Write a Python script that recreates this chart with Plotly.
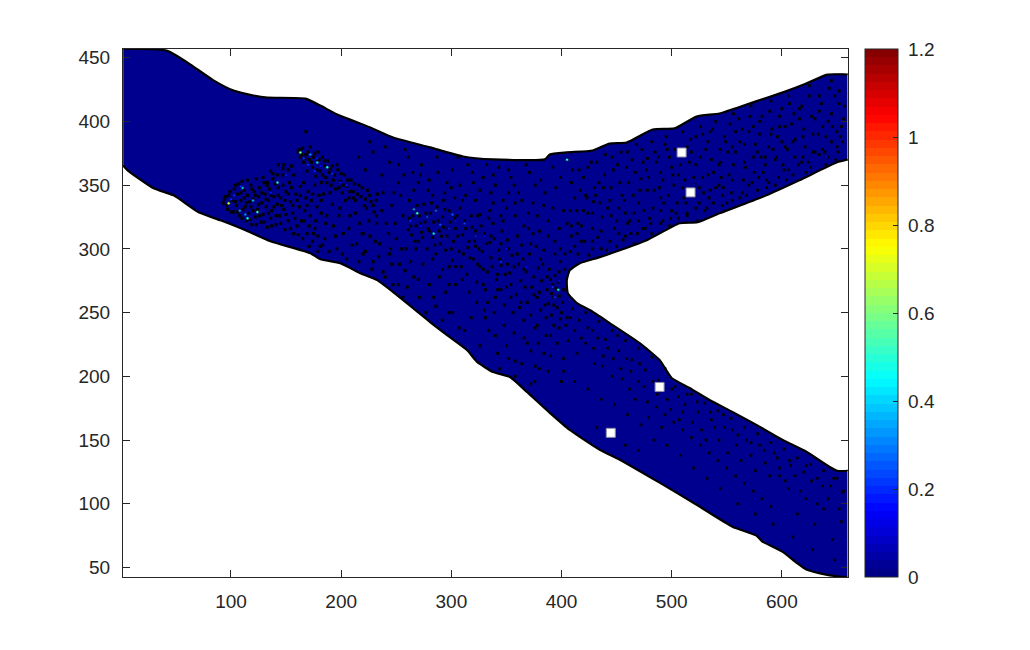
import plotly.graph_objects as go

# Channel boundary (data coordinates)
top_x = [2,41.6,60.6,84.1,102.3,120.4,133.1,167.5,181.1,196.5,226.4,247.2,280.7,310.6,337.8,384.9,389.4,404.8,428.4,443.7,459.1,482.7,502.6,522.6,543.4,570.6,600.4,622.2,641.2,660]
top_y = [457,455.5,446.1,432.2,424.2,420.3,418.7,417.9,412.4,405.4,395.2,387.4,379.6,372.5,370.2,370.2,374.1,375.7,377.2,382.7,383.5,393.7,394.5,403.9,406.2,414,422.6,429.7,436.7,436.7]
fork_x = [660,650,615.8,585.9,543.4,523.5,507.2,477.3,452.8,434.7,416.6,407.5,404.8,405.7,413.9,425.6,443.7,470.9,489,499.9,516.2,534.3,555.1,576.9,600.4,622.2,643,650.2,660]
fork_y = [370.2,367.9,353.8,342,327.9,320.9,320.1,306.8,298.9,293.5,288.8,283.3,275.5,265.3,257.4,252,241.8,226.1,212.8,198.7,190.9,181.5,172.1,161.9,150.2,140.8,129.1,125.9,125.9]
low_x = [660,651.8,640,622.2,613.1,600.4,582.3,576.9,555.1,522.6,489,452.8,434.7,407.5,389.4,368.6,353.2,337.8,323.4,314.2,296.1,280.7,265.3,247.2,232.7,217.3,199.2,181.1,172,135.8,113.2,90.5,70.6,48,29.8,6.2,2]
low_y = [42.6,43,44.5,48.5,53.9,62.5,70.4,75.1,82.1,99.3,116.6,134.6,142.4,158,171.4,187.8,199.5,203.4,211.3,220.7,232.4,242.6,253.5,266.1,275.5,280.9,288.8,291.9,296.6,306,314.6,322.4,328.7,342,347.5,361.6,365.5]

# Dark speckles
speckle_left = [(93,336),(95,341),(97,331),(99,345),(101,338),(102,329),(104,350),(105,334),(106,343),(108,326),(109,338),(110,353),(111,331),(112,346),(114,322),(114,336),(115,342),(116,328),(118,350),(118,333),(119,319),(120,339),(121,345),(122,325),(123,355),(124,331),(125,341),(126,348),(127,321),(128,336),(129,327),(130,352),(131,343),(132,333),(133,317),(134,338),(135,347),(136,324),(137,330),(138,355),(139,341),(141,319),(142,335),(143,348),(144,326),(145,340),(147,358),(148,331),(149,315),(150,345),(152,322),(153,352),(154,337),(156,328),(157,312),(159,343),(160,318),(162,333),(163,349),(165,308),
(161,376),(163,372),(165,379),(166,368),(168,374),(169,361),(171,370),(172,380),(174,364),(175,372),(177,357),(178,368),(179,376),(181,361),(182,352),(183,372),(185,365),(186,356),(188,369),(189,360),(191,350),(192,365),(194,358),(195,347),(197,362),(199,353),(201,344),(203,358),(205,349),(207,340),(209,354),(211,345),(213,338),(216,350),(218,341),(221,334),(224,346),(227,337),(230,329),(233,343),(152,362),(147,363),(143,366),(138,359),(133,352),(157,358),(168,392),
(168,340),(172,326),(175,312),(178,333),(181,302),(184,343),(186,320),(189,298),(192,335),(195,310),(198,326),(201,296),(204,338),(207,316),(210,303),(213,328),(216,290),(219,312),(222,298),(225,322),(228,284),(231,306),(234,294),(237,330),(240,278),(243,312),(246,288),(249,320),(252,272),(255,300),(258,283),(261,315),
(94,339),(96,334),(98,342),(100,329),(103,347),(104,337),(106,329),(107,351),(109,344),(110,324),(112,340),(113,333),(115,354),(117,337),(117,323),(119,347),(120,330),(122,342),(123,319),(125,335),(126,326),(128,344),(129,356),(130,321),(132,339),(133,350),(134,328),(136,342),(137,318),(139,333),(140,351),(141,326),(143,342),(145,320),(146,334),(147,350),(149,338),(150,327),(152,343),(154,316),(155,348),(156,334),(158,324),(160,338),(161,311),(163,342),(164,322),(166,352),(167,330),(169,312),(170,345),(171,318),(173,338),(174,306),(176,350),(177,322),(179,310),(180,342),(182,328),(183,303),
(162,378),(164,374),(167,371),(170,376),(173,368),(176,375),(178,362),(180,370),(183,358),(185,369),(187,352),(190,363),(193,354),(196,366),(198,348),(200,359),(202,350),(206,354),(208,345),(212,351),(215,343),(219,348),(222,339),(226,342),(229,334),(232,338),(148,366),(155,365),(142,358),(136,361),
(166,322),(169,334),(171,302),(174,343),(176,316),(179,298),(182,338),(185,308),(187,326),(190,344),(193,318),(196,300),(199,332),(202,312),(205,292),(208,326),(211,340),(214,304),(217,320),(220,296),(223,332),(226,310),(229,290),(232,326),(235,304),(238,282),(241,320),(244,296),(247,272),(250,308),(253,288),(256,326),(259,300),(260,270),(263,290),(266,278),(268,300),(271,262),(274,288),(277,250),(280,272),(283,292),(286,255),(289,278),(292,244),(295,266),(298,286),(301,250),(304,272),(307,238)]
speckle_middle = [(262,324),(264,311),(266,331),(268,318),(270,306),(271,326),(273,313),(275,335),(276,321),(278,300),(279,316),(281,328),(283,309),(284,321),(286,296),(287,333),(289,314),(290,304),(292,325),(293,317),(295,299),(296,310),(298,330),(299,321),(301,291),(302,306),(304,316),(305,326),(307,298),(309,286),(310,311),(312,322),(314,280),(315,301),(317,293),(319,317),(321,306),(323,274),(324,288),(326,327),(328,298),(330,312),(331,268),(333,282),(335,305),(336,293),(338,320),(340,262),(341,276),(343,299),(345,287),(346,314),(348,256),(350,270),(351,307),(353,281),(355,295),(356,250),(358,326),(359,264),(361,288),(363,275),(364,303),(366,244),(368,282),(369,258),(371,296),(373,270),(374,312),(376,238),(378,262),(379,285),(381,252),(382,275),(384,299),(386,246),(387,268),(388,257),(390,276),(391,265),(392,272),(393,262),(394,279),(395,269),(396,254),(397,274),(398,263),(399,290),(400,250),(402,268),(403,284),(399,245),(393,240),(386,232),(379,226),(372,220),(366,230),(358,212),(350,224),(342,218),(334,236),
(216,372),(222,362),(229,376),(237,358),(244,368),(252,352),(258,378),(266,346),(273,366),(280,354),(287,372),(294,344),(301,362),(308,350),(315,366),(322,338),(329,356),(336,344),(343,364),(350,332),(357,350),(364,338),(371,360),(378,326),(385,344),(392,332),(399,356),(405,320),(412,340),(418,306),(424,328),(430,348),(238,344),(246,334),(254,342),(262,338),(270,352),(283,342),(296,352),(310,338),(324,326),(338,336),(352,344),(366,318),(380,314),(394,306),(408,298),(376,350),(392,364),(410,362),(338,358),(352,362),(320,352),(220,312),(232,320),(245,300),(256,262),(270,276),(284,262),(298,250),(312,236),(326,224),(344,206),(358,200),(372,194),
(263,318),(265,326),(267,306),(269,334),(272,320),(274,309),(277,328),(280,314),(282,336),(285,303),(288,322),(291,310),(294,331),(297,316),(300,300),(303,324),(306,310),(308,332),(311,296),(313,316),(316,306),(318,326),(320,292),(322,314),(325,300),(327,318),(329,284),(332,304),(334,324),(337,286),(339,308),(342,268),(344,292),(347,322),(349,280),(352,300),(354,262),(357,286),(360,310),(362,254),(365,292),(367,270),(370,316),(372,248),(375,278),(377,302),(380,266),(383,288),(385,256),(388,310),(389,284),(391,248),(394,296),(396,268),(398,282),(401,258),(403,296),(404,240),
(322,302),(326,286),(329,272),(333,258),(336,310),(339,250),(342,280),(345,304),(348,240),(351,288),(354,272),(357,234),(360,296),(363,258),(366,284),(369,226),(372,304),(375,264),(378,240),(381,292),(384,218),(387,278),(390,232),(393,256),(396,226),(399,300),(402,214),(405,246),(345,268),(331,246),(323,258),(316,266),(310,276),(304,286),(298,272),(292,284),(340,232),(352,214),(364,210),(376,208),(388,204),(400,196),(330,252),(318,246),
(226,384),(240,380),(252,366),(261,372),(272,358),(279,346),(288,360),(293,338),(300,348),(306,372),(313,342),(319,360),(326,346),(332,366),(340,350),(347,338),(354,356),(361,344),(368,366),(374,336),(381,354),(388,322),(395,348),(402,330),(409,352),(415,320),(422,342),(428,306),(303,340),(257,358),(248,344),(265,360),(335,330),(345,326),(358,336),(370,328),(384,334),(398,316),(409,310),(415,296)]
speckle_upper = [(412,302),(418,318),(425,295),(429,337),(433,309),(437,325),(441,299),(445,348),(448,316),(452,332),(456,307),(459,364),(462,322),(465,342),(469,312),(472,355),(475,330),(478,371),(481,320),(484,346),(487,309),(490,360),(493,336),(496,378),(499,324),(502,350),(505,314),(508,366),(511,340),(514,328),(517,386),(520,356),(523,322),(526,372),(529,344),(532,332),(535,392),(538,360),(541,326),(544,378),(547,348),(550,336),(553,398),(556,366),(559,332),(562,384),(565,354),(568,342),(571,404),(574,372),(577,338),(580,390),(583,360),(586,348),(589,408),(592,378),(595,344),(598,396),(601,366),(604,354),(607,414),(610,384),(613,352),(616,402),(619,372),(622,360),(625,420),(628,390),(631,356),(634,408),(637,378),(640,366),(643,426),(646,396),(649,370),(652,414),(655,384),
(420,356),(427,368),(434,352),(440,374),(447,362),(454,376),(461,352),(468,382),(474,368),(482,384),(488,372),(495,388),(503,378),(510,392),(518,376),(526,396),(533,384),(540,400),(548,388),(556,406),(564,394),(572,412),(580,400),(590,416),(598,404),(606,420),(616,410),(625,428),(634,420),(645,432),(652,424),(656,402),(650,392),(640,388),(630,402),(620,394),(612,372),(600,384),(590,390),(578,376),(566,368),(555,380),(544,368),(533,358),(522,366),(512,354),(500,364),(490,340),(478,346),(466,328),(455,342),(445,326),(435,336),(428,316),(420,330),(414,312),
(450,302),(458,310),(466,304),(474,316),(482,312),(490,320),(498,318),(506,324),(514,326),(522,332),(530,330),(538,336),(546,334),(554,344),(562,340),(570,350),(578,346),(586,354),(594,350),(602,362),(610,358),(618,368),(626,364),(634,374),(642,372),(650,380),(505,336),(515,344),(525,348),(535,346),(545,356),(555,354),(500,330),(490,330),(480,324),(470,322),(460,320),(452,312),(444,306),(436,300),(428,300),(575,360),(585,372),(595,372),(605,378),
(409,318),(414,330),(417,346),(421,306),(424,364),(428,328),(431,342),(436,314),(439,358),(442,332),(446,372),(450,322),(453,352),(457,338),(460,376),(463,312),(467,360),(470,336),(473,378),(476,316),(479,356),(483,332),(486,368),(489,348),(492,322),(494,382),(497,342),(501,358),(504,328),(507,376),(510,348),(513,336),(516,368),(519,344),(522,388),(525,336),(528,356),(531,378),(534,340),(537,394),(540,348),(543,366),(546,342),(549,384),(552,358),(555,338),(558,376),(561,402),(564,344),(567,364),(570,392),(573,352),(576,382),(579,356),(582,404),(585,366),(588,352),(591,394),(594,370),(597,356),(600,410),(603,380),(606,362),(609,398),(612,386),(615,366),(618,412),(621,380),(624,368),(627,404),(630,376),(633,390),(636,414),(639,376),(642,400),(645,384),(648,420),(651,376),(654,396),(657,412),
(408,330),(416,362),(423,340),(432,368),(438,348),(444,338),(451,366),(458,328),(464,370),(471,346),(477,362),(485,376),(492,354),(498,372),(506,358),(514,380),(521,350),(528,390),(536,370),(543,350),(551,376),(558,392),(566,382),(574,396),(581,372),(588,380),(596,388),(603,396),(611,406),(619,388),(628,376),(637,396),(645,406),(653,388)]
speckle_lower = [(410,253),(416,244),(422,250),(428,236),(434,243),(440,229),(446,236),(452,220),(458,228),(464,213),(470,222),(476,205),(482,215),(488,197),(494,206),(500,190),(506,184),(512,178),(518,186),(524,172),(530,179),(536,166),(542,173),(548,160),(554,167),(560,154),(566,160),(572,148),(578,155),(584,142),(590,148),(596,136),(602,143),(608,130),(614,136),(620,125),(626,131),(632,120),(638,126),(644,114),(650,120),(655,109),
(398,238),(406,228),(414,218),(422,226),(430,210),(438,216),(446,200),(454,206),(462,190),(470,196),(478,180),(486,176),(494,170),(502,164),(510,158),(518,152),(526,146),(534,140),(542,134),(550,128),(558,122),(566,116),(574,110),(582,104),(590,98),(598,122),(606,112),(614,92),(622,104),(630,84),(638,96),(646,72),(654,86),(390,216),(402,204),(412,196),(424,190),(436,182),(448,178),(460,170),(472,162),(484,150),(496,146),(508,138),(520,128),(532,120),(544,112),(560,100),(576,92),(592,84),(610,74),(628,64),(648,56),(380,206),(376,196),(432,160),(446,154),(458,146),(470,142),
(408,246),(412,236),(418,230),(424,238),(429,222),(433,230),(437,208),(442,222),(447,214),(451,232),(455,198),(459,214),(463,204),(467,182),(471,210),(475,192),(479,168),(483,196),(487,186),(491,160),(496,182),(499,174),(503,192),(507,166),(510,172),(514,186),(519,164),(523,180),(527,158),(531,150),(535,172),(539,160),(543,150),(547,170),(551,140),(555,158),(559,146),(563,134),(568,150),(572,138),(576,126),(580,146),(585,132),(589,122),(593,140),(598,128),(603,118),(607,134),(612,122),(617,110),(622,130),(627,118),(632,100),(637,114),(642,104),(647,120),(652,96),(656,110)]

# Lighter patches with their values on the colour scale
patch_x = [97.9,115,110.4,142.2,163,178.3,187.4,109,100,150,166,176,269,263,278,290,301,312,284,405,397,345,178,120,108,199,392,322,113,103,124,136,170,172,181,192,205,272,266,286,298,304,394,398,368,350,330,520,515,640]
patch_y = [335.7,324,348,352,375.6,367.8,364,349,339,358,371,361,328,322,325,319,327,320,312,370,268,290,371,338,330,352,270,310,327,342,329,344,366,374,365,359,350,318,331,330,316,322,262,275,286,300,310,350,356,372]
patch_v = [0.66,0.45,0.42,0.42,0.55,0.4,0.45,0.2,0.2,0.18,0.2,0.2,0.5,0.2,0.22,0.24,0.25,0.22,0.4,0.5,0.42,0.2,0.18,0.35,0.3,0.15,0.2,0.18,0.3,0.2,0.5,0.18,0.2,0.3,0.15,0.2,0.18,0.15,0.3,0.25,0.18,0.15,0.2,0.16,0.15,0.16,0.14,0.14,0.13,0.14]

# White square markers
probe_x = [509,517.1,489,444.7]
probe_y = [375.6,344.3,191.7,155.7]

x_ticks = [100,200,300,400,500,600]
y_ticks = [50,100,150,200,250,300,350,400,450]
cbar_ticks = [0,0.2,0.4,0.6,0.8,1,1.2]
cbar_labels = ["\u00a00","\u00a00.2","\u00a00.4","\u00a00.6","\u00a00.8","\u00a01","\u00a01.2"]
x_range = [2,660]
y_range = [42.6,456.8]
c_range = [0,1.2]

outline_x = top_x + fork_x + low_x
outline_y = top_y + fork_y + low_y

def inside(px, py):
    hit = False
    j = len(outline_x) - 1
    for i in range(len(outline_x)):
        if (outline_y[i] > py) != (outline_y[j] > py):
            if px < outline_x[i] + (py - outline_y[i]) * (outline_x[j] - outline_x[i]) / (outline_y[j] - outline_y[i]):
                hit = not hit
        j = i
    return hit

def jet(t):
    def ramp(v):
        return max(0.0, min(1.0, 1.5 - abs(4*t - v)))
    return "rgb(%d,%d,%d)" % (255*ramp(3), 255*ramp(2), 255*ramp(1))

n = 64
scale = []
for i in range(n):
    col = jet((i+0.5)/n)
    scale += [[i/n, col], [(i+1)/n, col]]

ink = "#262626"
fig = go.Figure()
fig.add_trace(go.Scatter(x=outline_x, y=outline_y, mode="lines", fill="toself",
                         fillcolor="#00008f", line=dict(width=0, shape="spline", smoothing=0.5),
                         hoverinfo="skip", showlegend=False))
for xs, ys in ((top_x, top_y), (fork_x, fork_y), (low_x, low_y)):
    fig.add_trace(go.Scatter(x=xs, y=ys, mode="lines", line=dict(color="black", width=2.2, shape="spline", smoothing=0.5),
                             hoverinfo="skip", showlegend=False))
for group, size in ((speckle_left, 3.2), (speckle_middle, 3), (speckle_upper, 2.9), (speckle_lower, 2.7)):
    kept = [p for p in group if inside(p[0], p[1])]
    fig.add_trace(go.Scatter(x=[p[0] for p in kept], y=[p[1] for p in kept], mode="markers",
                             marker=dict(symbol="square", color="#000008", size=size, line=dict(width=0)),
                             hoverinfo="skip", showlegend=False))
fig.add_trace(go.Scatter(x=patch_x, y=patch_y, mode="markers", showlegend=False,
    marker=dict(color=patch_v, colorscale=scale, cmin=c_range[0], cmax=c_range[1], size=3,
                line=dict(color="#000018", width=0.5),
                colorbar=dict(thickness=33, thicknessmode="pixels", len=1, lenmode="fraction",
                              x=1.0235, xanchor="left", xpad=0, y=0, yanchor="bottom", ypad=0,
                              tickvals=cbar_ticks, ticktext=cbar_labels,
                              ticks="inside", ticklen=5, tickwidth=1, tickcolor=ink,
                              outlinecolor=ink, outlinewidth=1,
                              tickfont=dict(family="Liberation Sans", size=19, color=ink)))))
fig.add_trace(go.Scatter(x=probe_x, y=probe_y, mode="markers", showlegend=False,
                         marker=dict(symbol="square", color="white", size=9,
                                     line=dict(color="#8e8ea6", width=1))))
axis_style = dict(showgrid=False, zeroline=False, ticks="inside", ticklen=7, tickwidth=1, tickcolor=ink,
                  showline=True, linecolor=ink, linewidth=1, mirror="ticks",
                  tickfont=dict(family="Liberation Sans", size=19, color=ink))
fig.update_layout(width=1030, height=650, autosize=False, plot_bgcolor="white", paper_bgcolor="white",
                  margin=dict(l=122.5, r=181.5, t=48.5, b=72.5), showlegend=False,
                  xaxis=dict(range=x_range, tickvals=x_ticks, ticklabelstandoff=7, **axis_style),
                  yaxis=dict(range=y_range, tickvals=y_ticks, ticklabelstandoff=8, **axis_style),
                  shapes=[dict(type="line", xref="x", yref="y", x0=2.3, x1=2.3, y0=365.5, y1=456.8,
                               line=dict(color="#b02020", width=1), layer="above"),
                          dict(type="line", xref="x", yref="y", x0=659.7, x1=659.7, y0=370.2, y1=436.7,
                               line=dict(color="#20e0e0", width=1), layer="above"),
                          dict(type="line", xref="x", yref="y", x0=659.7, x1=659.7, y0=42.6, y1=125.9,
                               line=dict(color="#20e0e0", width=1), layer="above")])
fig.write_html("out.html", config={"displayModeBar": False},
               post_script="document.body.style.margin='0';document.body.style.overflow='hidden';")
